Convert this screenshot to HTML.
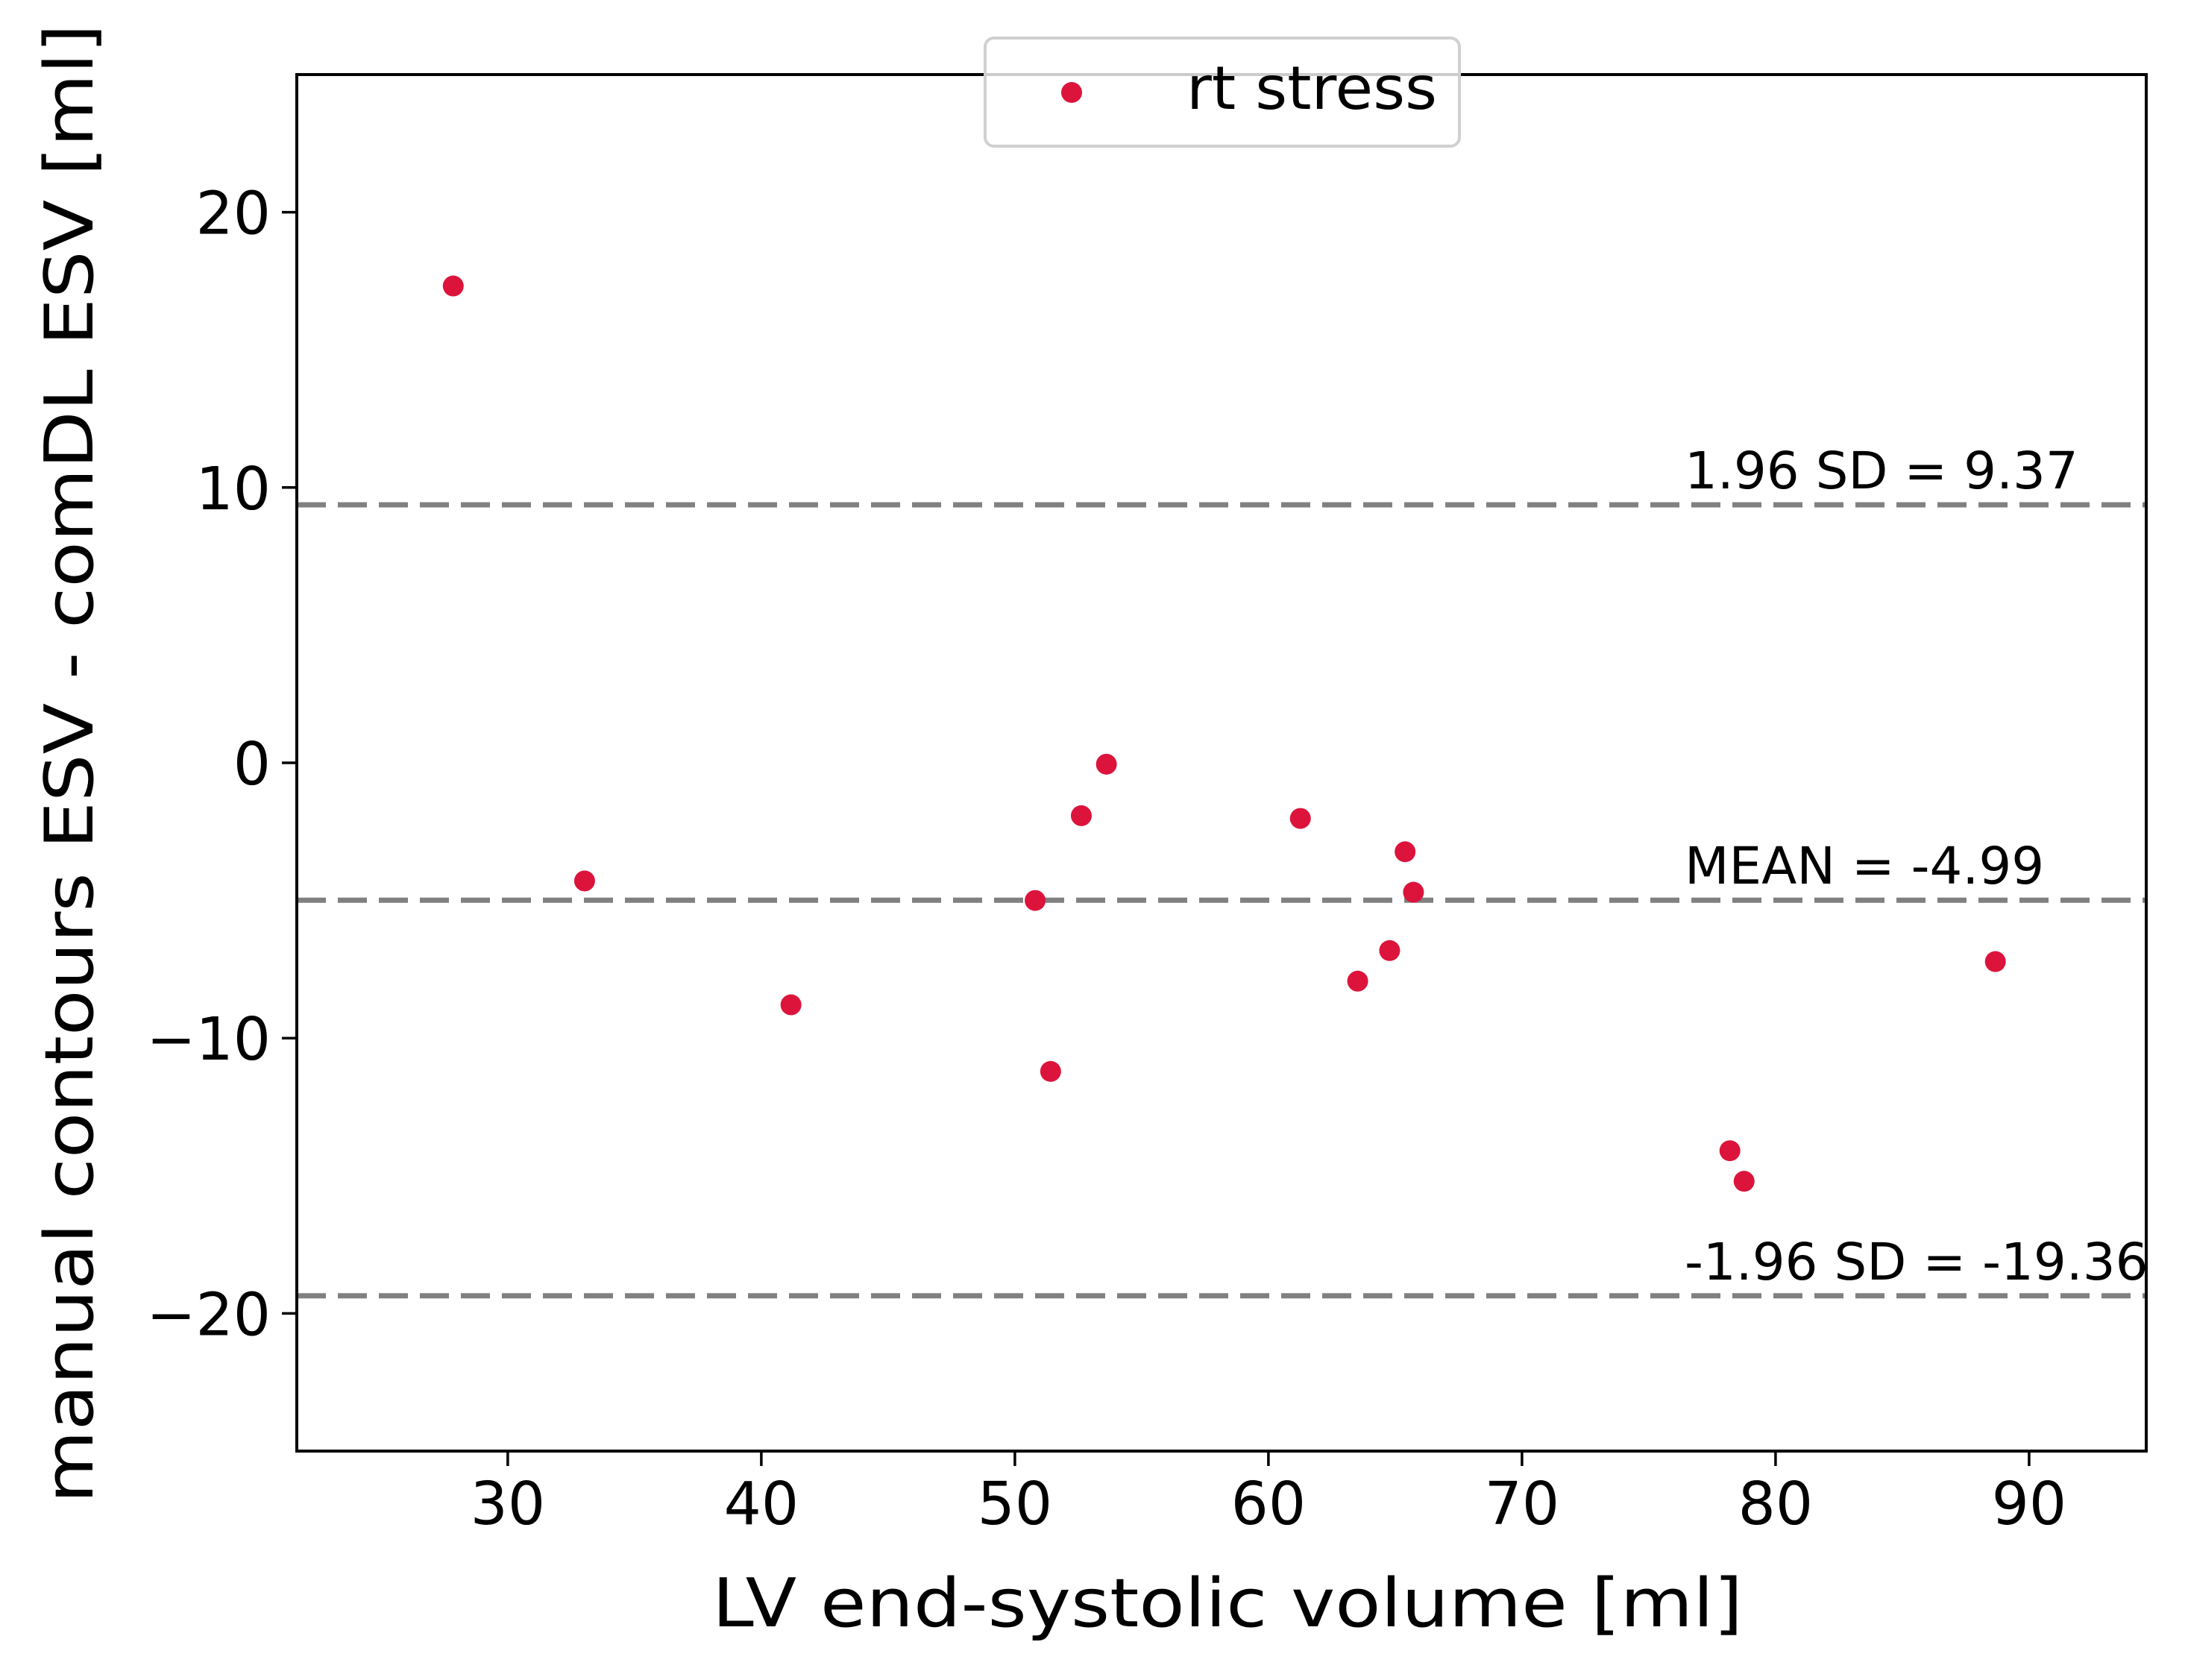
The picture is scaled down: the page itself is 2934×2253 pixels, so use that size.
<!DOCTYPE html>
<html><head><meta charset="utf-8">
<style>html,body{margin:0;padding:0;background:#fff}svg{display:block}text{font-family:"DejaVu Sans","Liberation Sans",sans-serif}</style>
</head><body>
<svg id="chart" xmlns="http://www.w3.org/2000/svg" width="2934" height="2253" viewBox="0 0 2934 2253">
<rect x="0" y="0" width="2934" height="2253" fill="#fff"/>
<defs><clipPath id="plotclip"><rect x="398" y="100" width="2480" height="1846"/></clipPath></defs>
<g id="plot" clip-path="url(#plotclip)"></g>
<g id="axes"></g>
<text x="1646" y="2181" font-size="90" text-anchor="middle" textLength="1382" lengthAdjust="spacingAndGlyphs">LV end-systolic volume [ml]</text>
<text transform="translate(124,1024) rotate(-90)" font-size="90" text-anchor="middle" textLength="1984" lengthAdjust="spacingAndGlyphs">manual contours ESV - comDL ESV [ml]</text>
<g>
<rect x="1321" y="51" width="636" height="145" rx="12" fill="#fff" fill-opacity="0.8" stroke="#d0d0d0" stroke-width="4"/>
<circle cx="1437" cy="124" r="14" fill="#dc143c"/>
<text x="1591" y="146" font-size="80" textLength="336" lengthAdjust="spacingAndGlyphs">rt stress</text>
</g>
</svg>
<script>
const xVals = [27.85, 33.03, 41.17, 50.8, 51.41, 52.62, 53.61, 61.26, 63.52, 64.78, 65.39, 65.72, 78.2, 78.76, 88.67];
const yVals = [17.32, -4.29, -8.79, -5.0, -11.21, -1.92, -0.05, -2.02, -7.93, -6.82, -3.23, -4.70, -14.09, -15.2, -7.22];
const refValues = [9.37, -4.99, -19.36];
const refLabels = ["1.96 SD = 9.37", "MEAN = -4.99", "-1.96 SD = -19.36"];
const xTicks = [30, 40, 50, 60, 70, 80, 90];
const yTicks = [20, 10, 0, -10, -20];
const yTickLabels = ["20", "10", "0", "\u221210", "\u221220"];

const NS = "http://www.w3.org/2000/svg";
const L = 398, R = 2878, T = 100, B = 1946;
const xMin = 21.68, xMax = 94.62, yMin = -25, yMax = 25;
function xs(v){ return L + (v - xMin) / (xMax - xMin) * (R - L); }
function ys(v){ return B - (v - yMin) / (yMax - yMin) * (B - T); }
function mk(tag, attrs, parent){ const e = document.createElementNS(NS, tag); for (const k in attrs) e.setAttribute(k, attrs[k]); parent.appendChild(e); return e; }
const plot = document.getElementById('plot');
const axes = document.getElementById('axes');

refValues.forEach((v, i) => {
  const ln = mk('line', {x1: L, x2: R, y1: ys(v), y2: ys(v), stroke: '#808080', 'stroke-width': 7, 'stroke-dasharray': '39 16'}, plot);
  
  
  const t = mk('text', {x: 2259, y: ys(v) - 22, 'font-size': 69}, plot);
  t.textContent = refLabels[i];
  
  
});

xVals.forEach((xv, i) => {
  const c = mk('circle', {cx: xs(xv), cy: ys(yVals[i]), r: 14, fill: '#dc143c'}, plot);
  
  
});

const frame = mk('rect', {x: L, y: T, width: R - L, height: B - T, fill: 'none', stroke: '#000', 'stroke-width': 4}, axes);



xTicks.forEach(v => {
  const tk = mk('line', {x1: xs(v), x2: xs(v), y1: B, y2: B + 20, stroke: '#000', 'stroke-width': 3.5}, axes);
  
  
  const t = mk('text', {x: xs(v), y: B + 98, 'font-size': 79, 'text-anchor': 'middle'}, axes);
  t.textContent = String(v);
  
  
});
yTicks.forEach((v, i) => {
  const tk = mk('line', {x1: L - 20, x2: L, y1: ys(v), y2: ys(v), stroke: '#000', 'stroke-width': 3.5}, axes);
  
  
  const t = mk('text', {x: L - 35, y: ys(v) + 29, 'font-size': 79, 'text-anchor': 'end'}, axes);
  t.textContent = yTickLabels[i];
  
  
});
</script>
</body></html>
